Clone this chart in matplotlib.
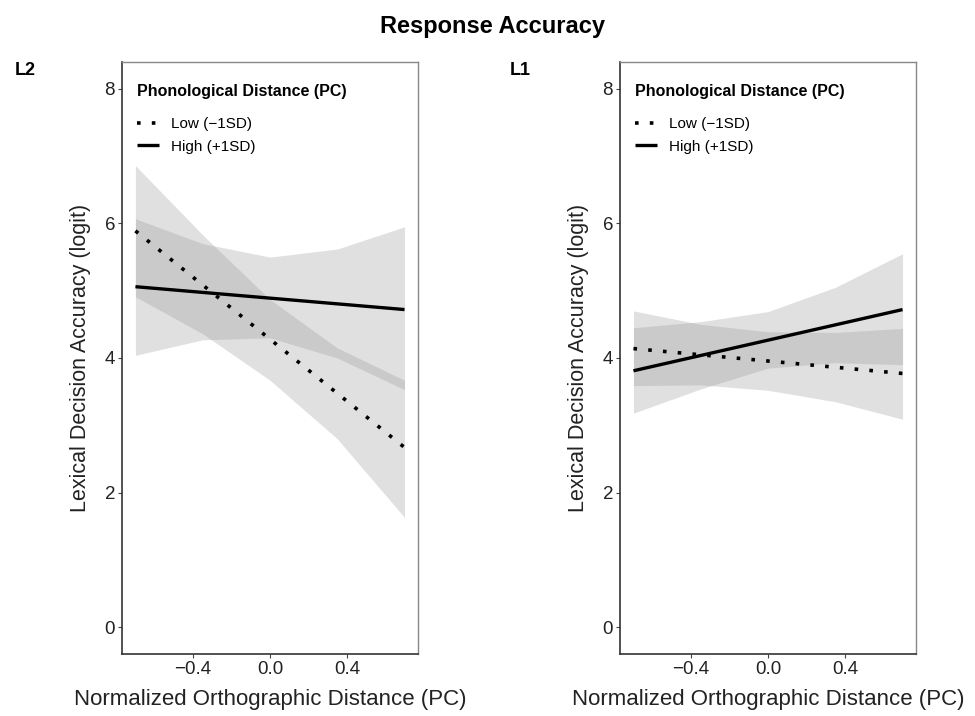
import numpy as np
import matplotlib.pyplot as plt

plt.rcParams['font.family'] = ['Liberation Sans', 'DejaVu Sans']

# x grid for the confidence ribbons, line endpoints
x_band = [-0.7, -0.35, 0.0, 0.35, 0.7]
x_line = [-0.7, 0.7]

# L2 panel
l2_low_line  = [5.89, 2.67]
l2_high_line = [5.06, 4.72]
l2_low_upper  = [6.86, 5.83, 4.87, 4.15, 3.67]
l2_low_lower  = [4.91, 4.36, 3.67, 2.80, 1.63]
l2_high_upper = [6.07, 5.70, 5.50, 5.62, 5.95]
l2_high_lower = [4.04, 4.27, 4.30, 4.00, 3.53]

# L1 panel
l1_low_line  = [4.14, 3.77]
l1_high_line = [3.81, 4.72]
l1_low_upper  = [4.70, 4.50, 4.39, 4.38, 4.44]
l1_low_lower  = [3.59, 3.60, 3.52, 3.35, 3.09]
l1_high_upper = [4.45, 4.54, 4.69, 5.05, 5.55]
l1_high_lower = [3.18, 3.54, 3.85, 3.93, 3.90]

x_ticks = [-0.4, 0.0, 0.4]
y_ticks = [0, 2, 4, 6, 8]

panels = [
    ('L2', l2_low_line, l2_high_line, l2_low_upper, l2_low_lower, l2_high_upper, l2_high_lower),
    ('L1', l1_low_line, l1_high_line, l1_low_upper, l1_low_lower, l1_high_upper, l1_high_lower),
]

fig = plt.figure(figsize=(9.75, 7.16), dpi=100)
ax_left = [0.1251, 0.6359]
tag_x = [0.026, 0.534]

for i, (tag, low, high, lo_u, lo_l, hi_u, hi_l) in enumerate(panels):
    ax = fig.add_axes([ax_left[i], 0.0866, 0.3036, 0.8268])
    ax.fill_between(x_band, lo_l, lo_u, color='#999999', alpha=0.3, lw=0)
    ax.fill_between(x_band, hi_l, hi_u, color='#999999', alpha=0.3, lw=0)
    ax.plot(x_line, low, color='black', lw=2.6, linestyle=(0, (1, 3.1)),
            dash_capstyle='butt', label='Low (\u22121SD)')
    ax.plot(x_line, high, color='black', lw=2.4, solid_capstyle='butt',
            label='High (+1SD)')

    ax.set_xlim(-0.77, 0.77)
    ax.set_ylim(-0.4, 8.4)
    ax.set_xticks(x_ticks)
    ax.set_xticklabels(['\u22120.4', '0.0', '0.4'])
    ax.set_yticks(y_ticks)
    ax.tick_params(labelsize=13.5, length=3, width=0.8, color='#444444',
                   labelcolor='#222222', pad=2)
    for s in ['left', 'bottom']:
        ax.spines[s].set_color('#333333')
        ax.spines[s].set_linewidth(1.2)
    for s in ['top', 'right']:
        ax.spines[s].set_color('#888888')
        ax.spines[s].set_linewidth(1.0)

    ax.set_xlabel('Normalized Orthographic Distance (PC)', fontsize=16,
                  color='#222222', labelpad=8)
    ax.set_ylabel('Lexical Decision Accuracy (logit)', fontsize=15.5,
                  color='#222222', labelpad=10)

    leg = ax.legend(loc='upper left', bbox_to_anchor=(0.005, 0.986),
                    frameon=False, fontsize=11, handlelength=1.4,
                    handletextpad=0.8, labelspacing=0.55,
                    title='Phonological Distance (PC)',
                    title_fontproperties={'weight': 'bold', 'size': 11.5})
    leg._legend_box.align = 'left'
    leg._legend_box.sep = 13

    fig.text(tag_x[i], 0.902, tag, fontsize=13, fontweight='bold', ha='center', va='center')

fig.text(0.505, 0.963, 'Response Accuracy', fontsize=17, fontweight='bold',
         ha='center', va='center')

fig.savefig('out.png', dpi=100)
